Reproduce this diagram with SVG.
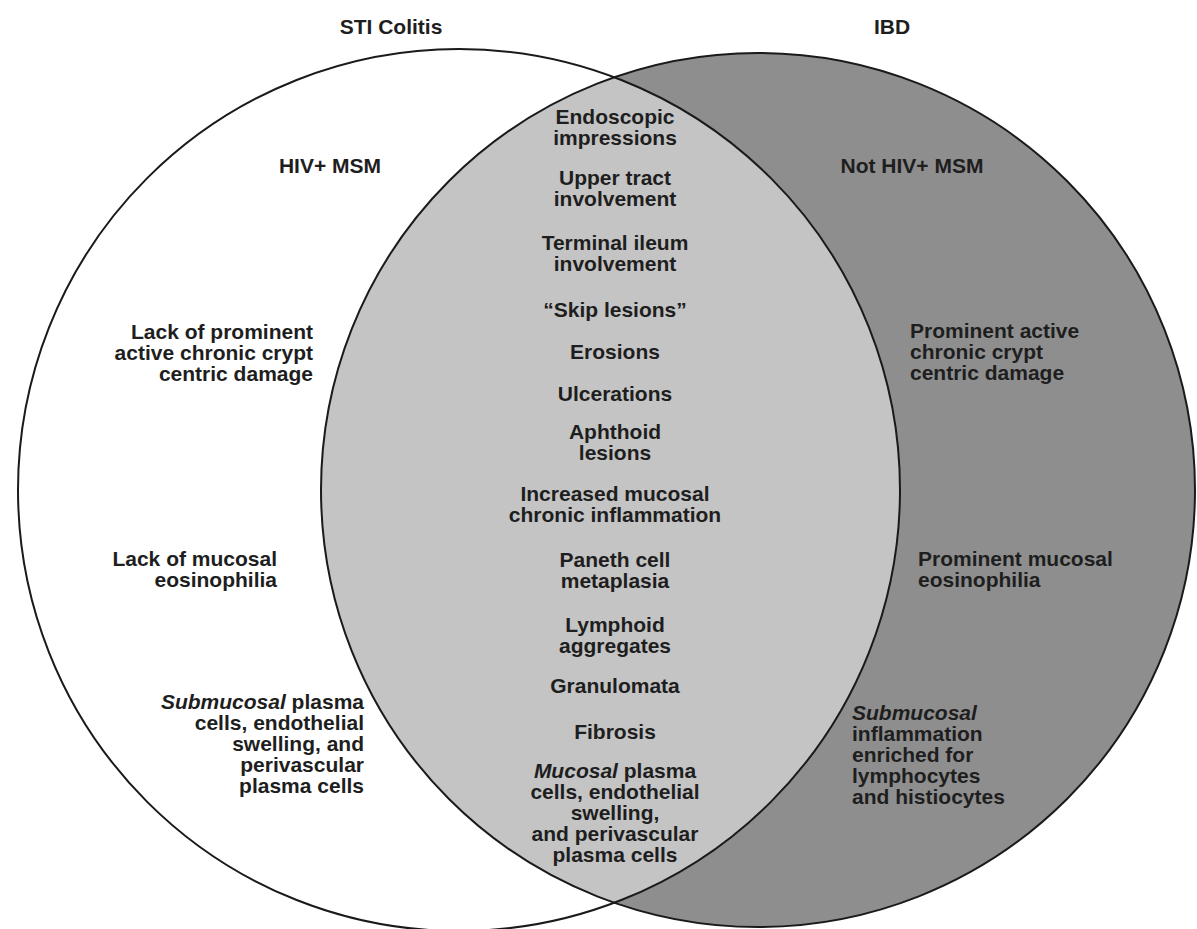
<svg xmlns="http://www.w3.org/2000/svg" width="1197" height="929" viewBox="0 0 1197 929">
<style>
  text { font-family: "Liberation Sans", Arial, Helvetica, sans-serif; font-weight: bold; font-size: 21px; fill: #1e1e1e; }
  .c { text-anchor: middle; }
  .r { text-anchor: end; }
  .l { text-anchor: start; }
  .i { font-style: italic; }
  .ring { fill: none; stroke: #1a1a1a; stroke-width: 2; }
</style>
<defs>
  <clipPath id="clipRight"><circle cx="758" cy="490" r="437"/></clipPath>
</defs>
<rect x="0" y="0" width="1197" height="929" fill="#ffffff"/>
<g id="circles">
  <circle id="ibd-circle" cx="758" cy="490" r="437" fill="#8e8e8e"/>
  <circle id="sti-circle" cx="459" cy="490" r="441" fill="#ffffff"/>
  <circle id="overlap" cx="459" cy="490" r="441" fill="#c4c4c4" clip-path="url(#clipRight)"/>
  <circle class="ring" cx="758" cy="490" r="437"/>
  <circle class="ring" cx="459" cy="490" r="441"/>
</g>
<g id="titles">
  <text id="t-sti" class="c" x="391" y="34">STI Colitis</text>
  <text id="t-ibd" class="c" x="892" y="34">IBD</text>
</g>
<g id="sti-only">
  <g id="n-hiv"><text class="c" x="330" y="173">HIV+ MSM</text></g>
  <g id="n-lack-crypt">
    <text class="r" x="313" y="339">Lack of prominent</text>
    <text class="r" x="313" y="360">active chronic crypt</text>
    <text class="r" x="313" y="381">centric damage</text>
  </g>
  <g id="n-lack-eos">
    <text class="r" x="277" y="566">Lack of mucosal</text>
    <text class="r" x="277" y="587">eosinophilia</text>
  </g>
  <g id="n-submucosal-plasma">
    <text class="r" x="364" y="709"><tspan class="i">Submucosal</tspan> plasma</text>
    <text class="r" x="364" y="730">cells, endothelial</text>
    <text class="r" x="364" y="751">swelling, and</text>
    <text class="r" x="364" y="772">perivascular</text>
    <text class="r" x="364" y="793">plasma cells</text>
  </g>
</g>
<g id="shared">
  <g id="n-endo"><text class="c" x="615" y="124">Endoscopic</text><text class="c" x="615" y="145">impressions</text></g>
  <g id="n-upper"><text class="c" x="615" y="185">Upper tract</text><text class="c" x="615" y="206">involvement</text></g>
  <g id="n-ileum"><text class="c" x="615" y="250">Terminal ileum</text><text class="c" x="615" y="271">involvement</text></g>
  <g id="n-skip"><text class="c" x="615" y="317">“Skip lesions”</text></g>
  <g id="n-erosions"><text class="c" x="615" y="359">Erosions</text></g>
  <g id="n-ulcer"><text class="c" x="615" y="401">Ulcerations</text></g>
  <g id="n-aphthoid"><text class="c" x="615" y="439">Aphthoid</text><text class="c" x="615" y="460">lesions</text></g>
  <g id="n-increased"><text class="c" x="615" y="501">Increased mucosal</text><text class="c" x="615" y="522">chronic inflammation</text></g>
  <g id="n-paneth"><text class="c" x="615" y="567">Paneth cell</text><text class="c" x="615" y="588">metaplasia</text></g>
  <g id="n-lymphoid"><text class="c" x="615" y="632">Lymphoid</text><text class="c" x="615" y="653">aggregates</text></g>
  <g id="n-granulomata"><text class="c" x="615" y="693">Granulomata</text></g>
  <g id="n-fibrosis"><text class="c" x="615" y="739">Fibrosis</text></g>
  <g id="n-mucosal-plasma">
    <text class="c" x="615" y="778"><tspan class="i">Mucosal</tspan> plasma</text>
    <text class="c" x="615" y="799">cells, endothelial</text>
    <text class="c" x="615" y="820">swelling,</text>
    <text class="c" x="615" y="841">and perivascular</text>
    <text class="c" x="615" y="862">plasma cells</text>
  </g>
</g>
<g id="ibd-only">
  <g id="n-not-hiv"><text class="c" x="912" y="173">Not HIV+ MSM</text></g>
  <g id="n-prom-crypt">
    <text class="l" x="910" y="338">Prominent active</text>
    <text class="l" x="910" y="359">chronic crypt</text>
    <text class="l" x="910" y="380">centric damage</text>
  </g>
  <g id="n-prom-eos">
    <text class="l" x="918" y="566">Prominent mucosal</text>
    <text class="l" x="918" y="587">eosinophilia</text>
  </g>
  <g id="n-submucosal-inf">
    <text class="l" x="852" y="720"><tspan class="i">Submucosal</tspan></text>
    <text class="l" x="852" y="741">inflammation</text>
    <text class="l" x="852" y="762">enriched for</text>
    <text class="l" x="852" y="783">lymphocytes</text>
    <text class="l" x="852" y="804">and histiocytes</text>
  </g>
</g>
</svg>
